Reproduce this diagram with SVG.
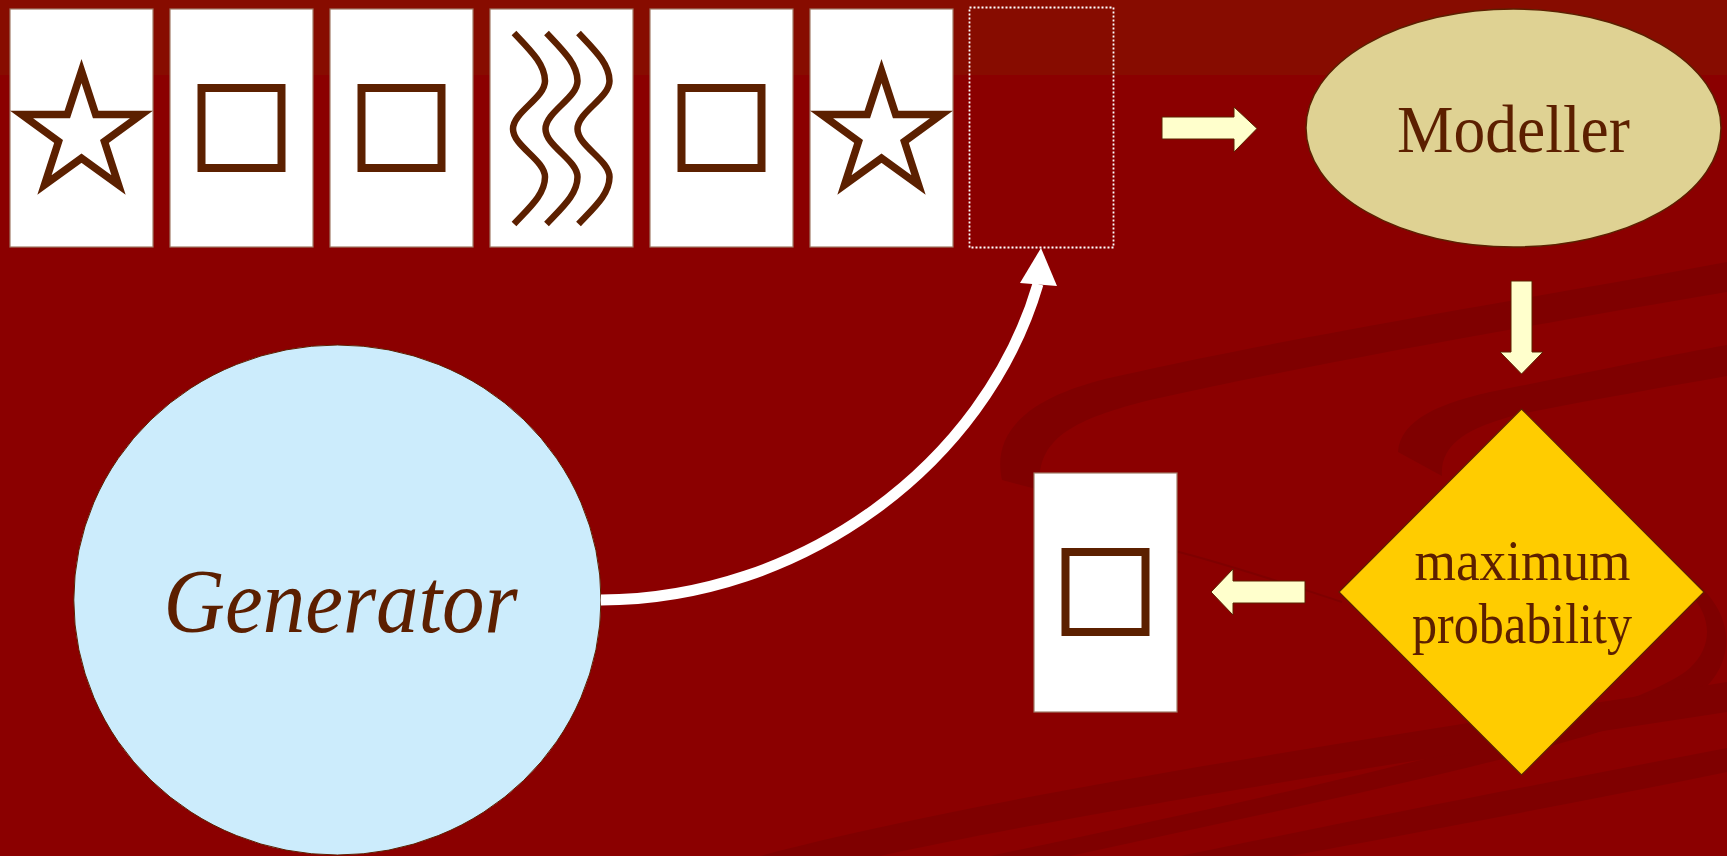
<svg xmlns="http://www.w3.org/2000/svg" xmlns:xlink="http://www.w3.org/1999/xlink" width="1727" height="856" viewBox="0 0 1727 856">
<style>
.card{fill:#ffffff;stroke:#a07a66;stroke-width:1.2}
.glyph{fill:none;stroke:#5c2000;stroke-width:7.5}
.sq{fill:none;stroke:#5c2000;stroke-width:8}
.wave{fill:none;stroke:#5c2000;stroke-width:6.5}
.blk{fill:#ffffcc;stroke:#5c2000;stroke-width:1}
.swoosh{fill:#7f0000}
.lbl{font-family:"Liberation Serif","Times New Roman",serif;fill:#5c1f00;text-anchor:middle}
</style>
<defs>
<path id="star" d="M0,71 L14.17,114.5 L59.92,114.5 L22.92,141.45 L37.03,184.97 L0,158.1 L-37.03,184.97 L-22.92,141.45 L-59.92,114.5 L-14.17,114.5 Z"/>
<path id="wv" d="M514,33 C530,50 545,64 545,81 C545,98 513,112 513,129 C513,146 545,160 545,177 C545,194 530,207 514,224"/>
</defs>
<g id="background">
<rect x="0" y="0" width="1727" height="856" fill="#8b0000"/>
<rect x="0" y="0" width="1727" height="75" fill="#870c00"/>
<path class="swoosh" d="M1002,480 C990,425 1040,392 1123,375 C1300,335 1550,295 1727,262 L1727,292 C1550,322 1330,360 1150,400 C1070,420 1035,440 1040,490 Z"/>
<path class="swoosh" d="M1398,452 C1400,420 1440,402 1500,390 C1600,370 1670,355 1727,345 L1727,376 C1660,388 1590,400 1520,414 C1465,428 1440,445 1442,476 Z"/>
<path class="swoosh" d="M1640,566 C1705,585 1725,635 1690,668 C1630,720 1300,790 990,856 L1070,856 C1350,795 1650,735 1708,685 C1745,645 1725,585 1655,560 Z"/>
<path class="swoosh" d="M760,856 C1000,792 1400,735 1727,682 L1727,712 C1400,762 1050,818 880,856 Z"/>
<path class="swoosh" d="M1180,856 C1380,815 1560,780 1727,748 L1727,772 C1580,802 1420,832 1290,856 Z"/>
<path d="M1175,551 C1230,565 1290,585 1342,602" fill="none" stroke="#7f0000" stroke-width="2"/>
</g>
<g id="card1"><rect class="card" x="10" y="9" width="143" height="238"/><use xlink:href="#star" href="#star" x="81.5" class="glyph"/></g>
<g id="card2"><rect class="card" x="170" y="9" width="143" height="238"/><rect class="sq" x="201.5" y="88" width="80" height="80"/></g>
<g id="card3"><rect class="card" x="330" y="9" width="143" height="238"/><rect class="sq" x="361.5" y="88" width="80" height="80"/></g>
<g id="card4"><rect class="card" x="490" y="9" width="143" height="238"/><use xlink:href="#wv" href="#wv" class="wave"/><use xlink:href="#wv" href="#wv" x="32.5" class="wave"/><use xlink:href="#wv" href="#wv" x="64.5" class="wave"/></g>
<g id="card5"><rect class="card" x="650" y="9" width="143" height="238"/><rect class="sq" x="681.5" y="88" width="80" height="80"/></g>
<g id="card6"><rect class="card" x="810" y="9" width="143" height="238"/><use xlink:href="#star" href="#star" x="881.5" class="glyph"/></g>
<g id="slot"><rect x="969.5" y="7.5" width="144" height="240" fill="none" stroke="#ffffff" stroke-width="1.8" stroke-dasharray="2 2"/></g>
<g id="modeller"><ellipse cx="1513.5" cy="128" rx="207.5" ry="119" fill="#dfd293" stroke="#5c2000" stroke-width="1.5"/><text class="lbl" x="1513.5" y="152" font-size="67" textLength="233" lengthAdjust="spacingAndGlyphs">Modeller</text></g>
<g id="decision"><polygon points="1521.5,409 1704,592 1521.5,775 1339,592" fill="#ffcc00" stroke="#5c2000" stroke-width="1.2"/><text class="lbl" x="1522.5" y="580" font-size="57" textLength="216" lengthAdjust="spacingAndGlyphs">maximum</text><text class="lbl" x="1522" y="643" font-size="57" textLength="220" lengthAdjust="spacingAndGlyphs">probability</text></g>
<g id="result"><rect class="card" x="1034" y="473" width="143" height="239"/><rect class="sq" x="1065.5" y="552" width="80" height="80"/></g>
<g id="generator"><ellipse cx="337.4" cy="600" rx="263.6" ry="255" fill="#ccecfc" stroke="#5c2000" stroke-width="1"/><text class="lbl" x="340.6" y="631.5" font-size="91" font-style="italic" textLength="354" lengthAdjust="spacingAndGlyphs">Generator</text></g>
<g id="connectors">
<polygon class="blk" points="1162,117 1234,117 1234,107 1257,128.5 1234,152 1234,139 1162,139"/>
<polygon class="blk" points="1511,281 1532,281 1532,352 1543,352 1521.5,374 1500,352 1511,352"/>
<polygon class="blk" points="1305,581 1233,581 1233,569 1211,592 1233,615 1233,603 1305,603"/>
<path d="M601,600 C800,600 985,465 1038,284" fill="none" stroke="#ffffff" stroke-width="11"/>
<polygon points="1041,248 1057,286 1020,283" fill="#ffffff"/>
</g>
</svg>
